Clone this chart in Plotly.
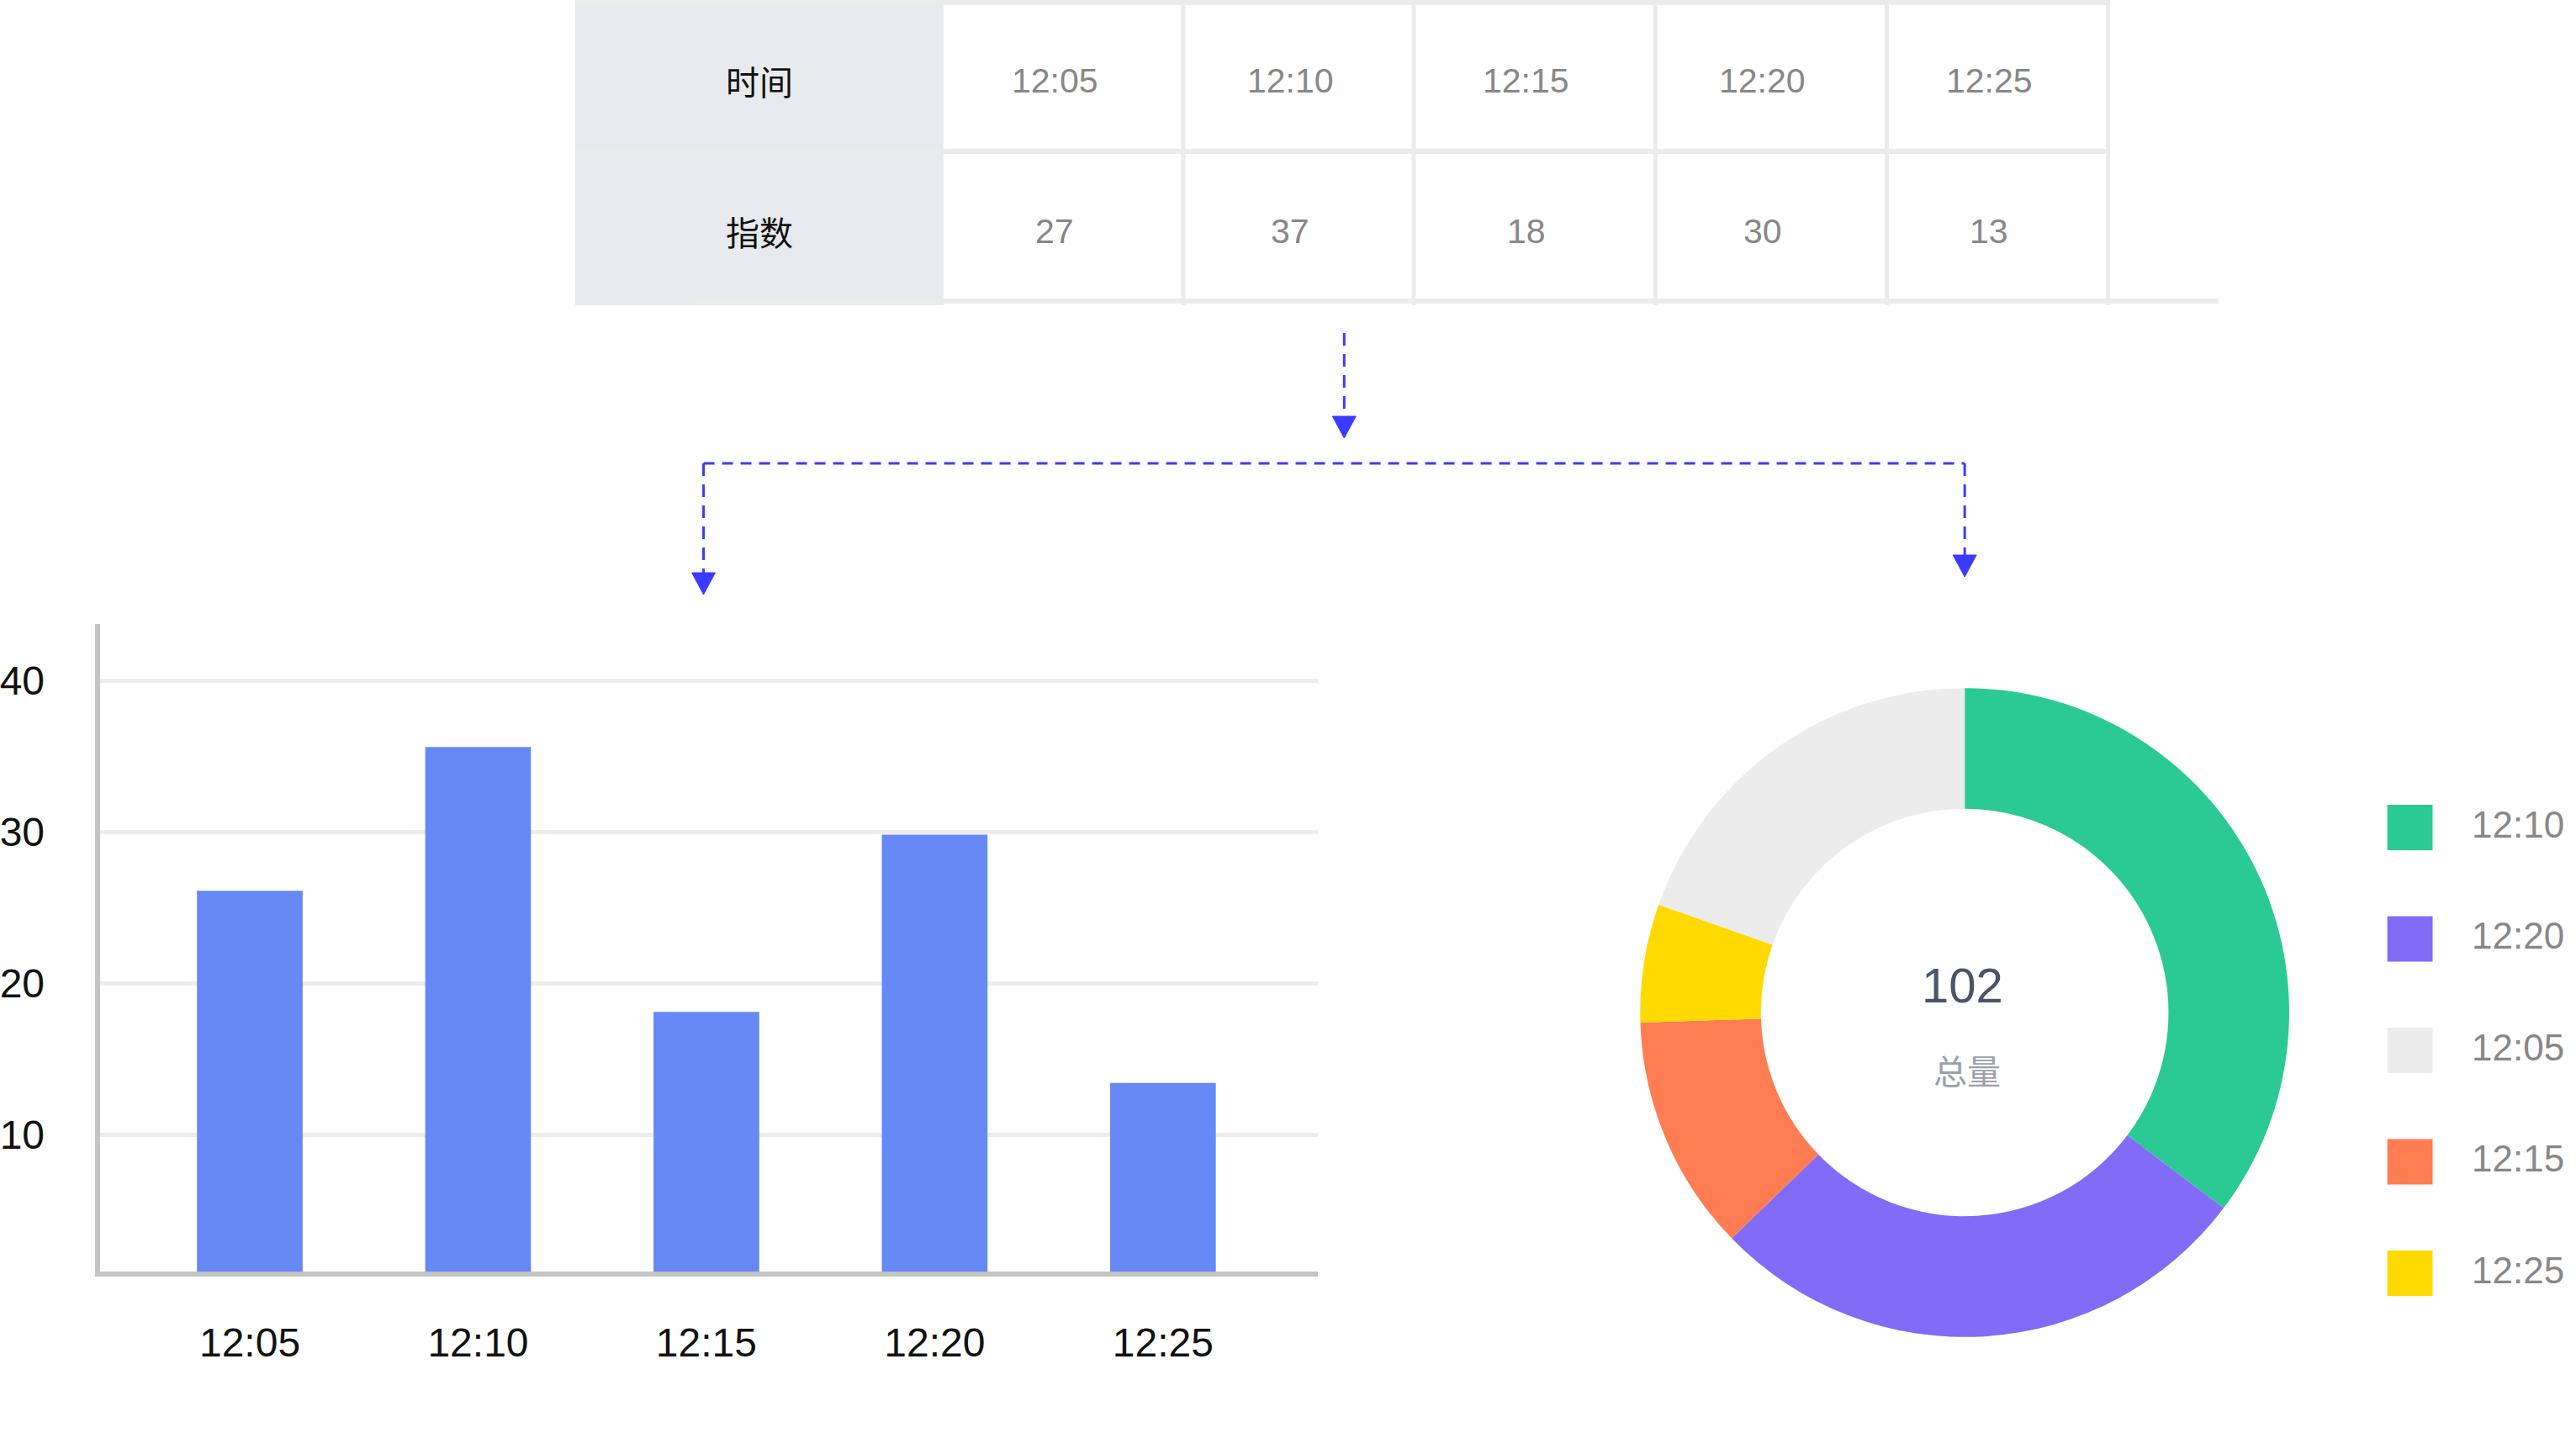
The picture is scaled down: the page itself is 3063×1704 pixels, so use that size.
import plotly.graph_objects as go

W, H = 3063, 1704

# ---------------- data ----------------
times = ["12:05", "12:10", "12:15", "12:20", "12:25"]
row_labels = ["时间", "指数"]
table_values = [27, 37, 18, 30, 13]

bar_values = [26.1, 35.6, 18.1, 29.8, 13.4]
y_ticks = [10, 20, 30, 40]

pie_labels = ["12:10", "12:20", "12:15", "12:25", "12:05"]
pie_values = [36, 28, 12, 6, 20]
pie_colors = ["#2BCA95", "#826BF6", "#FF7D52", "#FFDA00", "#ECECEC"]
legend_order = ["12:10", "12:20", "12:05", "12:15", "12:25"]
center_caption = "总量"

# ---------------- helpers ----------------
def px(x):
    return x / W

def py(y):
    return 1 - y / H

FONT = "Liberation Sans, Helvetica, Arial, Noto Sans CJK SC, sans-serif"
CJK = "Noto Sans CJK SC, Liberation Sans, sans-serif"
LINE = "#EBEBEB"
BLUE = "#3B3BFF"

shapes = []
annotations = []

# ---------------- table (shapes + annotations) ----------------
col_edges = [677, 1116, 1402, 1677, 1965, 2241, 2505]
row_edges = [3, 180, 358]
table_bottom = 363

shapes.append(dict(type="rect", xref="paper", yref="paper",
                   x0=px(col_edges[0]), x1=px(col_edges[1]),
                   y0=py(0), y1=py(table_bottom), fillcolor="#E8EAED", line_width=0,
                   layer="below"))
for yy in row_edges[:2]:
    shapes.append(dict(type="line", xref="paper", yref="paper",
                       x0=px(col_edges[0]), x1=px(col_edges[-1]), y0=py(yy), y1=py(yy),
                       line=dict(color=LINE, width=6)))
shapes.append(dict(type="line", xref="paper", yref="paper",
                   x0=px(812), x1=px(2637), y0=py(row_edges[2]), y1=py(row_edges[2]),
                   line=dict(color=LINE, width=6)))
for xx in col_edges[2:]:
    shapes.append(dict(type="line", xref="paper", yref="paper",
                       x0=px(xx), x1=px(xx), y0=py(0), y1=py(table_bottom),
                       line=dict(color=LINE, width=5)))

row_centers = [96, 275]
for r, lab in enumerate(row_labels):
    annotations.append(dict(xref="paper", yref="paper",
                            x=px((col_edges[0] + col_edges[1]) / 2), y=py(row_centers[r]),
                            text=lab, showarrow=False, xanchor="center", yanchor="middle",
                            font=dict(family=CJK, size=40, color="#111111")))
rows = [times, [str(v) for v in table_values]]
for r, vals in enumerate(rows):
    for c, v in enumerate(vals):
        cx = (col_edges[c + 1] + col_edges[c + 2]) / 2 - 10
        annotations.append(dict(xref="paper", yref="paper", x=px(cx), y=py(row_centers[r]),
                                text=v, showarrow=False, xanchor="center", yanchor="middle",
                                font=dict(family=FONT, size=41, color="#878787")))

# ---------------- dashed arrows ----------------
def dline(x0, y0, x1, y1, dash):
    shapes.append(dict(type="line", xref="paper", yref="paper",
                       x0=px(x0), y0=py(y0), x1=px(x1), y1=py(y1),
                       line=dict(color=BLUE, width=3, dash=dash)))

def head(x, tip_y):
    w, h = 14, 26
    path = (f"M {px(x - w)} {py(tip_y - h)} L {px(x + w)} {py(tip_y - h)} "
            f"L {px(x)} {py(tip_y)} Z")
    shapes.append(dict(type="path", xref="paper", yref="paper", path=path,
                       fillcolor=BLUE, line=dict(color=BLUE, width=1)))

VDASH = "15px,10px"
dline(1594, 396, 1594, 497, VDASH)
head(1594, 521)
dline(830, 551, 2334, 551, "13px,9px")
dline(830, 551, 830, 683, VDASH)
head(830, 707)
dline(2334, 551, 2334, 662, VDASH)
head(2334, 686)

# ---------------- bar chart ----------------
bar = go.Bar(x=times, y=bar_values, marker=dict(color="#6689F6", line_width=0),
             width=0.463, xaxis="x", yaxis="y", showlegend=False, hoverinfo="x+y")

# ---------------- donut ----------------
pcx, pcy, R = 2334, 1204, 387
pie = go.Pie(labels=pie_labels, values=pie_values, hole=0.628, sort=False,
             direction="clockwise", rotation=0, textinfo="none",
             marker=dict(colors=pie_colors, line=dict(width=0)), showlegend=False,
             domain=dict(x=[px(pcx - R), px(pcx + R)], y=[py(pcy + R), py(pcy - R)]))

annotations.append(dict(xref="paper", yref="paper", x=px(pcx - 3), y=py(1171),
                        text=str(sum(pie_values)), showarrow=False,
                        xanchor="center", yanchor="middle",
                        font=dict(family=FONT, size=58, color="#4A5568")))
annotations.append(dict(xref="paper", yref="paper", x=px(pcx + 3), y=py(1272),
                        text=center_caption, showarrow=False,
                        xanchor="center", yanchor="middle",
                        font=dict(family=CJK, size=40, color="#9AA0A8")))

color_of = dict(zip(pie_labels, pie_colors))
leg_y0, leg_step, sq = 984, 132.5, 54
for i, lab in enumerate(legend_order):
    yc = leg_y0 + i * leg_step
    shapes.append(dict(type="rect", xref="paper", yref="paper",
                       x0=px(2838), x1=px(2838 + sq), y0=py(yc + sq / 2), y1=py(yc - sq / 2),
                       fillcolor=color_of[lab], line_width=0))
    annotations.append(dict(xref="paper", yref="paper", x=px(2937), y=py(yc - 4),
                            text=lab, showarrow=False, xanchor="left", yanchor="middle",
                            font=dict(family=FONT, size=44, color="#878787")))

fig = go.Figure([bar, pie])

# bar-chart frame (pixels) and value scale
x_left, x_right = 110, 1563
base_y, top_y = 1512, 742
zero_y, unit = 1529, 18.0
fig.update_layout(
    width=W, height=H, margin=dict(l=0, r=0, t=0, b=0),
    paper_bgcolor="white", plot_bgcolor="white",
    font=dict(family=FONT),
    shapes=shapes, annotations=annotations,
    xaxis=dict(domain=[px(x_left), px(x_right)], type="category", range=[-0.657, 4.680],
               showgrid=False, zeroline=False, showline=True, linecolor="#C4C4C4",
               linewidth=6, ticks="", ticklabelstandoff=37,
               tickfont=dict(family=FONT, size=48, color="#111111"), fixedrange=True),
    yaxis=dict(domain=[py(base_y), py(top_y)],
               range=[(zero_y - base_y) / unit, (zero_y - top_y) / unit],
               tickvals=y_ticks, showgrid=True, gridcolor="#ECECEC", gridwidth=5,
               zeroline=False, showline=True, linecolor="#C4C4C4", linewidth=6,
               ticks="", ticklabelstandoff=50,
               tickfont=dict(family=FONT, size=48, color="#111111"), fixedrange=True),
)

fig.write_html(
    "out.html",
    config=dict(displayModeBar=False),
    post_script="document.body.style.margin='0';document.body.style.padding='0';"
                "document.body.style.overflow='hidden';",
)
